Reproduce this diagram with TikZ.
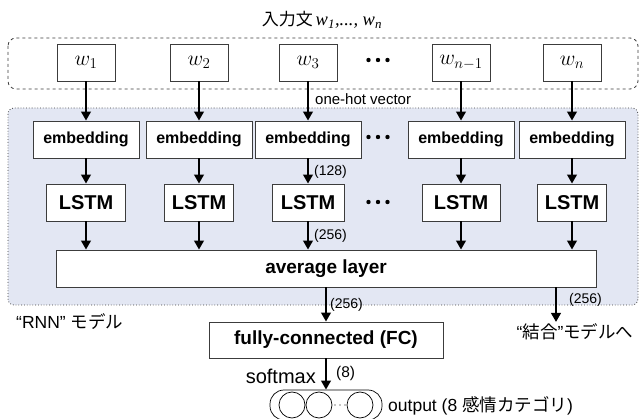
\RequirePackage{fix-cm}
\documentclass[tikz,border=0pt]{standalone}
\usepackage{fontspec}
\setmainfont{Liberation Sans}
\newfontfamily\jpfont{Noto Sans CJK JP}
\newfontfamily\serfont{Liberation Serif}
\usetikzlibrary{arrows.meta}
\definecolor{rnnblue}{RGB}{227,231,243}
\definecolor{boxline}{RGB}{60,60,60}

\begin{document}
\begin{tikzpicture}[x=1pt, y=-1pt,
    box/.style={draw=boxline, line width=0.8pt, fill=white, inner sep=0pt, minimum height=37pt},
    wbox/.style={box, minimum width=58pt, font=\fontsize{21.5}{21.5}\selectfont},
    embbox/.style={box, minimum width=106pt, font=\bfseries\fontsize{16}{16}\selectfont},
    lstmbox/.style={box, font=\bfseries\fontsize{20}{20}\selectfont},
    bigbox/.style={box, font=\bfseries\fontsize{19}{19}\selectfont},
    arr/.style={line width=2.5pt, -{Triangle[length=9pt,width=9.5pt]}},
    lbl/.style={inner sep=0pt, anchor=west, font=\fontsize{14}{14}\selectfont},
    jplbl/.style={inner sep=0pt, font=\fontsize{17.5}{17.5}\selectfont}]
    \useasboundingbox (0,0) rectangle (640,419);

    % Рамки
    \draw[boxline, dashed, line width=0.8pt, rounded corners=8pt] (8,38) rectangle (638,89);
    \draw[boxline, dotted, line width=0.8pt, rounded corners=6pt, fill=rnnblue] (8,108) rectangle (638,305);

    % Заголовок
    \node (title) at (322,20) {{\jpfont\fontsize{17}{17}\selectfont 入力文} {\serfont\itshape\fontsize{18.5}{18.5}\selectfont w\textsubscript{1},..., w\textsubscript{n}}};

    % Слой усреднения
    \node[bigbox, minimum width=540pt] (avg) at (326,268.5) {average layer};

    % Столбцы
    \foreach \i/\x/\lw/\wl in {1/86/79/w_1, 2/199/69/w_2, 3/308/72/w_3, 4/461/78/w_{n-1}, 5/572/69/w_n} {
        \node[wbox] (w\i) at (\x,62.5) {$\wl$};
        \node[embbox] (emb\i) at (\x,139.5) {embedding};
        \node[lstmbox, minimum width=\lw pt] (lstm\i) at (\x,202.5) {LSTM};
        \draw[arr] (w\i) -- (emb\i);
        \draw[arr] (emb\i) -- (lstm\i);
        \draw[arr] (lstm\i) -- (lstm\i |- avg.north);
    }

    % Многоточия
    \foreach \y in {60,137,202}
        \foreach \dx in {-9.5,0,9.5}
            \fill ({378+\dx},\y) circle (2.2pt);

    % Подписи
    \node[lbl, font=\fontsize{15}{15}\selectfont] (onehot) at (315,99) {one-hot vector};
    \node[lbl] (l128) at (314,172) {(128)};
    \node[lbl] (l256a) at (314,236) {(256)};
    \node[lbl] (l256b) at (330,305) {(256)};
    \node[lbl] (l256c) at (569,300) {(256)};

    % Полносвязный слой
    \node[bigbox, minimum width=234pt, minimum height=36pt] (fc) at (326,340) {fully-connected (FC)};
    \draw[arr] (avg.south) -- (fc.north);
    \coordinate (tojoint) at (556,322);
    \draw[arr] (avg.south -| tojoint) -- (tojoint);
    \node[jplbl] (joint) at (575,332) {“{\jpfont 結合}”{\jpfont モデルへ}};
    \node[jplbl, anchor=west] (rnnlbl) at (16,322) {“RNN” {\jpfont モデル}};

    % Выход
    \node[draw=black, line width=0.7pt, rounded corners=14pt, minimum width=112pt, minimum height=30pt, inner sep=0pt] (out) at (326,405) {};
    \foreach \i/\x in {1/292, 2/319, 3/360}
        \node[circle, draw=black, line width=0.7pt, minimum size=26pt, inner sep=0pt] (c\i) at (\x,405) {};
    \foreach \x in {335,340,345}
        \fill (\x,405) circle (0.7pt);
    \draw[arr] (fc) -- (out);
    \node[inner sep=0pt, anchor=east, font=\fontsize{20}{20}\selectfont] (softmax) at (316,376) {softmax};
    \node[lbl, font=\fontsize{15.5}{15.5}\selectfont] (l8) at (336,373) {(8)};
    \node[jplbl, anchor=west] (outlbl) at (388,406) {output (8 {\jpfont 感情カテゴリ})};
\end{tikzpicture}
\end{document}
